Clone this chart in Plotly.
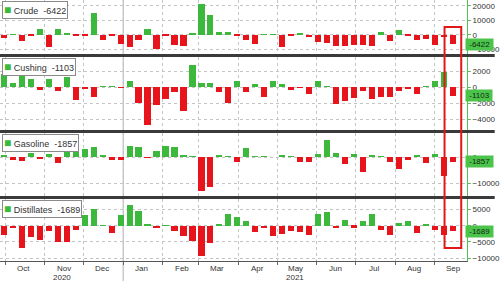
import plotly.graph_objects as go
from plotly.subplots import make_subplots
import pandas as pd

# ---------------- data (weekly EIA inventory changes, thousand barrels) ----------------
dates = pd.date_range("2020-09-30", periods=51, freq="7D")

crude = [-1980, 500, -3820, -1000, 4320, -7990, 4280, 770, -750, -680,
         15190, -3140, -560, -6070, -8010, -3250, 4350, -9910, -990, -6640,
         -7260, 1290, 21560, 13800, 2400, 1910, -880, -3520, -5890, 590,
         90, -7990, -430, 1320, -1660, -5080, -5240, -7360, -7610, -6720,
         -6870, -7900, 2110, -4090, 3630, -450, -3230, -2980, -7170, -1530,
         -6422]

cushing = [1600, 450, 1600, 1000, -400, 950, -450, 1200, -1600, -250,
           -1300, 100, 50, -50, 800, -1950, -4700, -2250, -1450, -600,
           -3000, 2800, 450, 550, -600, -1950, 800, -650, 350, -1300,
           700, 350, -400, -100, -900, 750, 100, -2100, -1800, -1400,
           -500, -1500, -1300, -1200, -450, -250, -900, 100, 800, 1900,
           -1103]

gasoline = [700, -1150, -1400, 1400, -900, 1200, -2200, 2400, 2000, 3200,
            4000, 800, -1000, -1000, 4200, 3800, -100, 2200, 4200, 4000,
            400, 100, -13100, -11500, 500, 200, -1800, 3600, 300, 100,
            0, 500, 200, -2000, -1800, 1200, 6500, 1700, -2700, 1300,
            -5600, 800, 100, -2100, -4700, -1200, 400, -2200, 1300, -7200,
            -1857]

distillates = [-3000, -700, -7000, -3600, -4300, -1500, -5100, -5100, -1400, 3400,
               5200, 100, -2200, 3200, 6400, 4700, 300, -700, 100, -1500,
               -3300, -4800, -9400, -5300, 300, 3700, 2700, 1500, -1900, -700,
               -3100, -2600, -1500, -2000, -2800, 3700, 4400, -800, 1800, -600,
               1600, 3600, -1200, -3000, 800, 1600, -2200, 600, -1400, -3000,
               -1689]

series_names = ["Crude", "Cushing", "Gasoline", "Distillates"]
series_values = [crude, cushing, gasoline, distillates]
tick_values = [[20000, 10000, 0, -10000],
               [2000, 0, -2000, -4000],
               [0, -10000],
               [5000, 0, -5000, -10000]]
y_ranges = [[-13100, 24100], [-5375, 3750], [-15000, 9230], [-10900, 8280]]
month_labels = pd.date_range("2020-10-01", "2021-09-01", freq="MS")

# ---------------- styling / layout ----------------
GREEN = "#3cb83c"
RED = "#e8141c"
AXGREEN = "#55c255"
W, H = 500, 281
MB = 20
PH = H - MB  # plot area height in px
panels_px = [(0, 54), (57, 130), (133, 196), (199, PH)]
separators_px = [55.5, 131.5, 197.5]
FONT = "Liberation Sans"

x_range = ["2020-09-27", "2021-09-26"]

fig = make_subplots(rows=4, cols=1, shared_xaxes=True, vertical_spacing=0.01)

for i, vals in enumerate(series_values):
    colors = [GREEN if v >= 0 else RED for v in vals]
    fig.add_trace(go.Bar(x=dates, y=vals, marker=dict(color=colors, line=dict(width=0)),
                         width=4.8 * 86400000, showlegend=False, hoverinfo="x+y"),
                  row=i + 1, col=1)


def pdom(top, bot):
    return [1 - bot / PH, 1 - top / PH]


for i in range(4):
    n = "" if i == 0 else str(i + 1)
    fig.layout["yaxis" + n].update(
        domain=pdom(*panels_px[i]), range=y_ranges[i], side="right",
        tickvals=tick_values[i], tickformat="d",
        showline=True, linecolor=AXGREEN, linewidth=1,
        ticks="outside", ticklen=3, tickcolor=AXGREEN,
        tickfont=dict(size=8, color="#333", family=FONT),
        showgrid=True, gridcolor="#c4c4c4", griddash="dot", gridwidth=1,
        zeroline=False, fixedrange=True)
    fig.layout["xaxis" + n].update(
        range=x_range, type="date", dtick="M1", tick0="2020-10-01",
        showgrid=True, gridcolor="#c4c4c4", griddash="dot", gridwidth=1,
        zeroline=False, showticklabels=False, fixedrange=True)

fig.layout.xaxis4.update(ticks="outside", ticklen=3, tickcolor="#666", showline=True,
                         linecolor="#555", linewidth=1)

shapes = []
# thick separators between panels
for s in separators_px:
    shapes.append(dict(type="line", xref="paper", yref="paper", x0=0, x1=W / (W - 28),
                       y0=1 - s / PH, y1=1 - s / PH, line=dict(color="#3a3a3a", width=3)))
# year boundary
shapes.append(dict(type="line", xref="x", yref="paper", x0="2021-01-01", x1="2021-01-01",
                   y0=-MB / PH, y1=1, line=dict(color="#b0b0b0", width=1), layer="below"))
# red highlight box around the latest week
last = dates[-1]
shapes.append(dict(type="rect", xref="x", yref="paper",
                   x0=last - pd.Timedelta(days=6.5), x1=last + pd.Timedelta(days=6.5),
                   y0=1 - 248 / PH, y1=1 - 27 / PH, line=dict(color="#e01818", width=2)))

annotations = []
for i, (name, vals) in enumerate(zip(series_names, series_values)):
    n = "" if i == 0 else str(i + 1)
    latest = vals[-1]
    annotations.append(dict(
        xref="paper", x=0.004, yref=("y" + n + " domain"), y=1, xanchor="left", yanchor="top",
        yshift=-1, showarrow=False,
        text=f'<span style="color:{GREEN};font-size:12px">■</span> {name}  {latest}',
        font=dict(size=9, color="#333", family=FONT),
        bgcolor="white", bordercolor="#8a8a8a", borderwidth=1, borderpad=1))
    annotations.append(dict(
        xref="paper", x=1, xanchor="left", xshift=-2, yref="y" + n, y=latest,
        showarrow=False, text=f" {latest} ",
        font=dict(size=8, color="#102a10", family=FONT),
        bgcolor="#4cc44c", borderpad=1))

# month labels centred in each month
for m in month_labels:
    annotations.append(dict(xref="x4", x=m + pd.Timedelta(days=14.5), yref="paper",
                            y=1 - 268 / PH, yanchor="middle", showarrow=False,
                            text=m.strftime("%b"),
                            font=dict(size=8, color="#333", family=FONT)))

# year labels centred on each year's visible span
x0 = pd.Timestamp(x_range[0]); x1 = pd.Timestamp(x_range[1]); yb = pd.Timestamp("2021-01-01")
for lab, a, b in [("2020", x0, yb), ("2021", yb, x1)]:
    annotations.append(dict(xref="x4", x=a + (b - a) / 2, yref="paper", y=1 - 277 / PH,
                            yanchor="middle", showarrow=False, text=lab,
                            font=dict(size=8, color="#333", family=FONT)))

fig.update_layout(width=W, height=H, margin=dict(l=0, r=28, t=0, b=MB),
                  paper_bgcolor="white", plot_bgcolor="white", bargap=0,
                  shapes=shapes, annotations=annotations,
                  font=dict(family=FONT, size=9, color="#333"))

fig.write_html("out.html")
